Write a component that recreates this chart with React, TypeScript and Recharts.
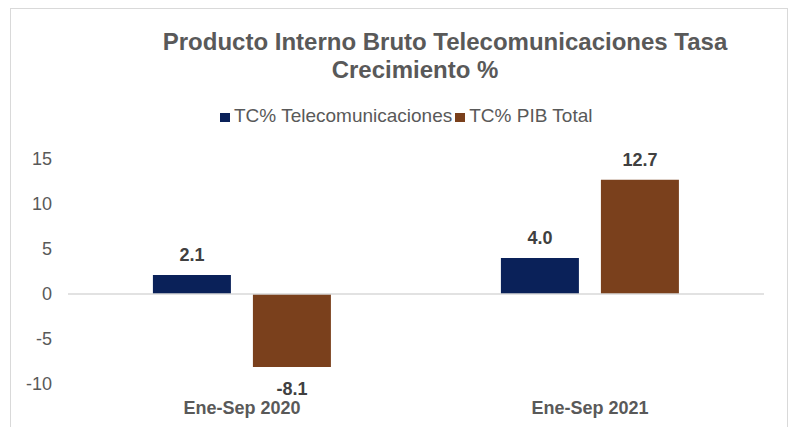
import { BarChart, Bar, XAxis, YAxis, ReferenceLine, LabelList } from 'recharts';

const categories = ['Ene-Sep 2020', 'Ene-Sep 2021'];
const telecom = [2.1, 4.0];
const pibTotal = [-8.1, 12.7];
const yTicks = [-10, -5, 0, 5, 10, 15];

const seriesNames = ['TC% Telecomunicaciones', 'TC% PIB Total'];
const NAVY = '#0a2159';
const BROWN = '#7a401c';
const FONT = '"Liberation Sans", Arial, sans-serif';

const chartData = categories.map((name, i) => ({
  name,
  telecom: telecom[i],
  pib: pibTotal[i],
}));

// value label above positive bars, below negative ones
const ValueLabel = (props: any) => {
  const { x, y, width, height, value } = props;
  const top = Math.min(y, y + height);
  const bottom = Math.max(y, y + height);
  const ly = value >= 0 ? top - 14 : bottom + 28;
  return (
    <text
      x={x + width / 2}
      y={ly}
      textAnchor="middle"
      fill="#404040"
      fontSize={18}
      fontWeight="bold"
      fontFamily={FONT}
    >
      {Number(value).toFixed(1)}
    </text>
  );
};

const LegendBox = () => (
  <div
    style={{
      position: 'absolute',
      top: 106,
      left: 220,
      display: 'flex',
      fontFamily: FONT,
      fontSize: 19,
      color: '#595959',
      lineHeight: '20px',
      whiteSpace: 'nowrap',
    }}
  >
    {seriesNames.map((s, i) => (
      <div key={s} style={{ display: 'flex', alignItems: 'center', marginRight: 3 }}>
        <span
          style={{
            display: 'inline-block',
            width: 10,
            height: 9,
            background: i === 0 ? NAVY : BROWN,
            marginRight: 4,
            marginTop: 3,
          }}
        />
        <span>{s}</span>
      </div>
    ))}
  </div>
);

export default function App() {
  return (
    <div
      style={{
        position: 'absolute',
        left: 0,
        top: 0,
        width: 792,
        height: 427,
        overflow: 'hidden',
        background: '#fff',
        fontFamily: FONT,
      }}
    >
      <div
        style={{
          position: 'absolute',
          left: 10,
          top: 8,
          width: 776,
          height: 440,
          border: '1px solid #d9d9d9',
        }}
      />
      <div
        style={{
          position: 'absolute',
          left: 0,
          width: 890,
          top: 28,
          textAlign: 'center',
          fontSize: 24,
          fontWeight: 'bold',
          color: '#595959',
          whiteSpace: 'nowrap',
        }}
      >
        Producto Interno Bruto Telecomunicaciones Tasa
      </div>
      <div
        style={{
          position: 'absolute',
          left: 0,
          width: 830,
          top: 56,
          textAlign: 'center',
          fontSize: 24,
          fontWeight: 'bold',
          color: '#595959',
          whiteSpace: 'nowrap',
        }}
      >
        Crecimiento %
      </div>
      <LegendBox />
      <div style={{ position: 'absolute', left: 0, top: 0 }}>
        <BarChart
          width={792}
          height={427}
          data={chartData}
          margin={{ top: 159, right: 28, bottom: 0, left: 0 }}
          barCategoryGap="24.4%"
          barGap={22}
        >
          <XAxis
            dataKey="name"
            axisLine={false}
            tickLine={false}
            tickSize={0}
            tickMargin={17}
            height={43}
            tick={{ fill: '#595959', fontSize: 18, fontWeight: 'bold', fontFamily: FONT }}
          />
          <YAxis
            domain={[-10, 15]}
            ticks={yTicks}
            axisLine={false}
            tickLine={false}
            tickSize={0}
            tickMargin={16}
            width={68}
            tick={{ fill: '#595959', fontSize: 18, fontFamily: FONT }}
          />
          <ReferenceLine y={0} stroke="#d9d9d9" strokeWidth={1.5} />
          <Bar dataKey="telecom" name={seriesNames[0]} fill={NAVY} isAnimationActive={false}>
            <LabelList dataKey="telecom" content={<ValueLabel />} />
          </Bar>
          <Bar dataKey="pib" name={seriesNames[1]} fill={BROWN} isAnimationActive={false}>
            <LabelList dataKey="pib" content={<ValueLabel />} />
          </Bar>
        </BarChart>
      </div>
    </div>
  );
}
